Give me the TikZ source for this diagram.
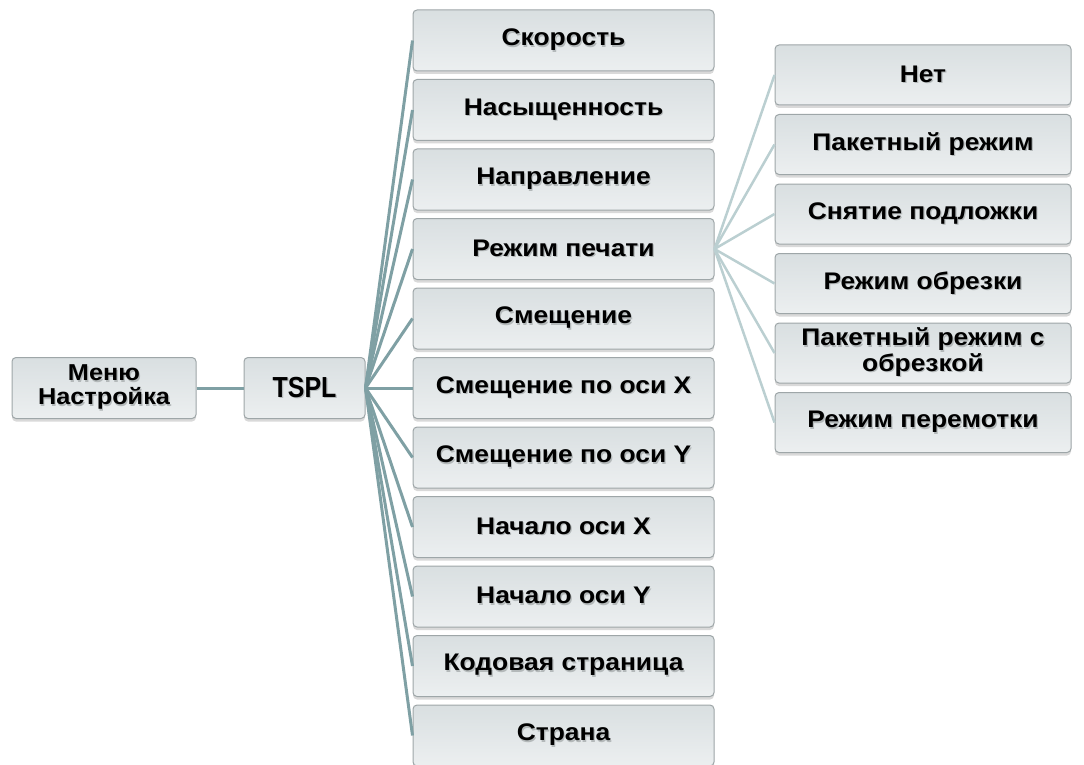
\documentclass[tikz,border=0pt]{standalone}
\usepackage{fontspec}
\usepackage{xcolor}
\setmainfont{Liberation Sans}[FakeStretch=1.1]
\newfontfamily\tsplfont{Liberation Sans}[FakeStretch=0.86]
\usetikzlibrary{shadows}
\definecolor{boxline}{HTML}{9EA6A8}
\definecolor{boxtop}{HTML}{D9DFE1}
\definecolor{boxbot}{HTML}{ECEFF0}
\definecolor{linkA}{HTML}{7FA0A4}
\definecolor{linkB}{HTML}{BBCFD1}
\definecolor{txtshadow}{HTML}{B4B9BA}
\newcommand\shl[1]{\makebox[0pt][l]{\hspace{1.2pt}\raisebox{-1.6pt}{\textcolor{txtshadow}{#1}}}#1}
\tikzset{
  box/.style={draw=boxline, line width=1pt, rounded corners=4pt,
    top color=boxtop, bottom color=boxbot,
    drop shadow={shadow xshift=0pt, shadow yshift=-3pt, opacity=0.25, fill=black!60},
    align=center, font=\bfseries\fontsize{24}{24}\selectfont, inner sep=0pt},
  midbox/.style={box, minimum width=301pt, minimum height=61pt},
  rbox/.style={box, minimum width=296pt, minimum height=60pt},
  linka/.style={draw=linkA, line width=3pt},
  linkb/.style={draw=linkB, line width=2.5pt},
}
\begin{document}
\begin{tikzpicture}[x=1pt,y=-1pt]
\useasboundingbox (0,0) rectangle (1084,765);
\node[box, minimum width=184pt, minimum height=61pt, font=\bfseries\fontsize{23}{24}\selectfont] (menu) at (104,388) {\shl{Меню}\\\shl{Настройка}};
\node[box, minimum width=121pt, minimum height=61pt, font=\tsplfont\bfseries\fontsize{29}{29}\selectfont] (tspl) at (304.5,388) {\shl{TSPL}};
\draw[linka] (menu.east) -- (tspl.west);
\foreach \n/\t [count=\i from 0] in {
  m1/Скорость, m2/Насыщенность, m3/Направление, m4/Режим печати,
  m5/Смещение, m6/Смещение по оси X, m7/Смещение по оси Y,
  m8/Начало оси X, m9/Начало оси Y, m10/Кодовая страница, m11/Страна}{
  \node[midbox] (\n) at (563.5,{40.5+69.5*\i}) {\shl{\t}};
}
\foreach \n/\t/\i in {
  r1/Нет/0, r2/Пакетный режим/1, r3/Снятие подложки/2, r4/Режим обрезки/3,
  r6/Режим перемотки/5}{
  \node[rbox] (\n) at (923,{75+69.5*\i}) {\shl{\t}};
}
\node[rbox] (r5) at (923,{75+69.5*4}) {\shl{Пакетный режим с}\\\shl{обрезкой}};
\foreach \n in {m1,m2,m3,m4,m5,m6,m7,m8,m9,m10,m11}{
  \draw[linka] (tspl.east) -- (\n.west);
}
\foreach \n in {r1,r2,r3,r4,r5,r6}{
  \draw[linkb] (m4.east) -- (\n.west);
}
\end{tikzpicture}
\end{document}
